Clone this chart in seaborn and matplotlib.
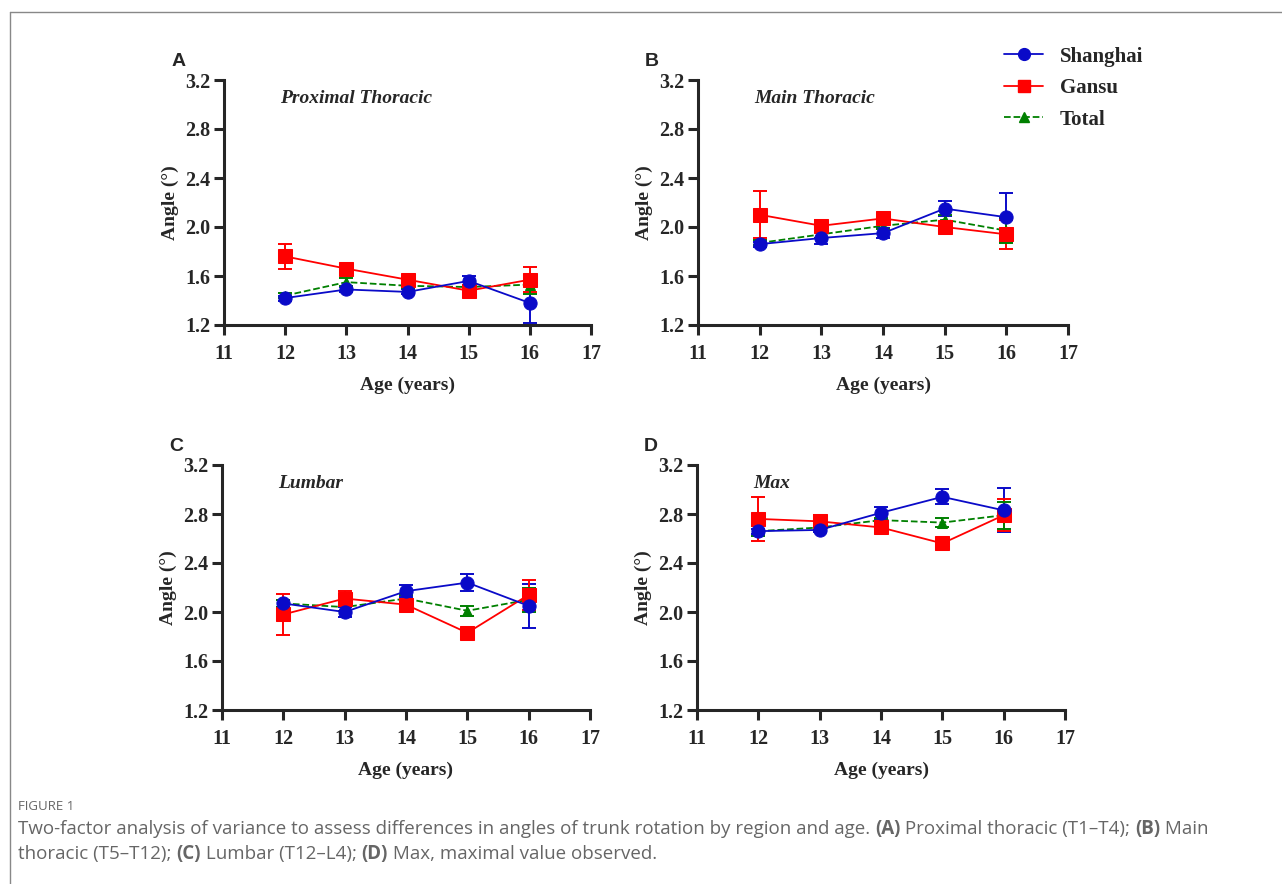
import numpy as np
import pandas as pd
import matplotlib
matplotlib.use("Agg")
import matplotlib.pyplot as plt
from matplotlib.lines import Line2D
import seaborn as sns

# ==================================================
# DATA
# ==================================================

ages = [12, 13, 14, 15, 16]

panel_labels = ["A", "B", "C", "D"]
panel_titles = ["Proximal Thoracic", "Main Thoracic", "Lumbar", "Max"]

# mean values per panel
shanghai_mean = [
    [1.42, 1.49, 1.47, 1.56, 1.38],
    [1.86, 1.91, 1.95, 2.15, 2.08],
    [2.07, 2.00, 2.17, 2.24, 2.05],
    [2.66, 2.67, 2.81, 2.94, 2.83],
]
gansu_mean = [
    [1.76, 1.66, 1.57, 1.48, 1.57],
    [2.10, 2.01, 2.07, 2.00, 1.94],
    [1.98, 2.11, 2.06, 1.83, 2.14],
    [2.76, 2.74, 2.69, 2.56, 2.79],
]
total_mean = [
    [1.44, 1.55, 1.52, 1.51, 1.53],
    [1.87, 1.94, 2.01, 2.06, 1.97],
    [2.07, 2.04, 2.11, 2.01, 2.10],
    [2.66, 2.69, 2.75, 2.73, 2.79],
]

# standard errors per panel
shanghai_err = [
    [0.02, 0.02, 0.02, 0.04, 0.16],
    [0.02, 0.05, 0.04, 0.06, 0.20],
    [0.03, 0.04, 0.05, 0.07, 0.18],
    [0.02, 0.02, 0.05, 0.06, 0.18],
]
gansu_err = [
    [0.10, 0.02, 0.02, 0.02, 0.10],
    [0.19, 0.05, 0.03, 0.04, 0.12],
    [0.17, 0.06, 0.03, 0.03, 0.12],
    [0.18, 0.05, 0.03, 0.04, 0.13],
]
total_err = [
    [0.02, 0.03, 0.02, 0.02, 0.08],
    [0.02, 0.03, 0.03, 0.04, 0.10],
    [0.03, 0.03, 0.03, 0.04, 0.10],
    [0.04, 0.02, 0.02, 0.04, 0.11],
]

series_names = ["Shanghai", "Gansu", "Total"]
colors = {"Shanghai": "#0A0AC8", "Gansu": "#FF0000", "Total": "#008000"}
markers = {"Shanghai": "o", "Gansu": "s", "Total": "^"}
msizes = {"Shanghai": 9.5, "Gansu": 9.5, "Total": 7.5}

# ==================================================
# STYLE
# ==================================================

sns.set_theme(style="ticks")
plt.rcParams["font.family"] = ["Liberation Serif", "DejaVu Serif"]
plt.rcParams["axes.linewidth"] = 2.0

fig = plt.figure(figsize=(12.82, 8.84), dpi=100)

W, H = 1282, 884
boxes = [
    (224, 591, 80, 325),
    (698, 1068, 80, 325),
    (222, 590, 465, 710),
    (697, 1065, 465, 710),
]

yticks = [1.2, 1.6, 2.0, 2.4, 2.8, 3.2]
xticks = list(range(11, 18))

for i, (l, r, t, b) in enumerate(boxes):
    ax = fig.add_axes([l / W, 1 - b / H, (r - l) / W, (b - t) / H])

    df = pd.DataFrame({
        "Age": ages * 3,
        "Angle": shanghai_mean[i] + gansu_mean[i] + total_mean[i],
        "Err": shanghai_err[i] + gansu_err[i] + total_err[i],
        "Group": sum([[g] * len(ages) for g in series_names], []),
    })

    # error bars first
    for g in series_names:
        sub = df[df["Group"] == g]
        ax.errorbar(
            sub["Age"], sub["Angle"], yerr=sub["Err"],
            fmt="none", ecolor=colors[g], elinewidth=1.4,
            capsize=5, capthick=1.4, zorder=2, clip_on=False
        )

    for g in ["Total", "Gansu", "Shanghai"]:
        sub = df[df["Group"] == g]
        sns.lineplot(
            data=sub, x="Age", y="Angle", ax=ax,
            color=colors[g], marker=markers[g], markersize=msizes[g],
            markeredgecolor=colors[g], linewidth=1.3,
            linestyle="--" if g == "Total" else "-",
            legend=False, zorder=3, clip_on=False
        )

    ax.set_xlim(11, 17)
    ax.set_ylim(1.2, 3.2)
    ax.set_xticks(xticks)
    ax.set_xticklabels([str(v) for v in xticks], fontsize=14.5,
                       fontweight="bold")
    ax.set_yticks(yticks)
    ax.set_yticklabels([f"{v:.1f}" for v in yticks], fontsize=14.5,
                       fontweight="bold")
    ax.tick_params(axis="both", direction="out", length=7, width=2.2)
    ax.tick_params(axis="x", pad=7)
    ax.tick_params(axis="y", pad=3)

    sns.despine(ax=ax)
    ax.spines["left"].set_linewidth(2.2)
    ax.spines["bottom"].set_linewidth(2.2)

    ax.set_xlabel("Age (years)", fontsize=14, fontweight="bold", labelpad=9)
    ax.set_ylabel("Angle (°)", fontsize=14, fontweight="bold", labelpad=4)

    ax.text(11.92, 3.05, panel_titles[i], fontsize=14, fontweight="bold",
            fontstyle="italic", ha="left", va="center")

    ax.text(-0.125, 1.075, panel_labels[i], transform=ax.transAxes,
            fontsize=14, fontweight="bold", family="Liberation Sans",
            ha="center", va="center")

# ==================================================
# LEGEND
# ==================================================

handles = [
    Line2D([], [], color=colors[g], marker=markers[g],
           markersize=msizes[g] - (1 if g != "Total" else 0.5),
           linewidth=1.3, linestyle="--" if g == "Total" else "-")
    for g in series_names
]
leg = fig.legend(
    handles, series_names, loc="upper left",
    bbox_to_anchor=(985 / W, 1 - 28 / H), frameon=False,
    prop={"family": "Liberation Serif", "weight": "bold", "size": 15},
    handlelength=1.9, labelspacing=0.55, handletextpad=0.8
)

# ==================================================
# BORDER + CAPTION
# ==================================================

fig.add_artist(Line2D([10 / W, 10 / W], [0, 1 - 12 / H], color="#888888",
                      linewidth=1, transform=fig.transFigure))
fig.add_artist(Line2D([10 / W, 1], [1 - 12 / H, 1 - 12 / H], color="#888888",
                      linewidth=1, transform=fig.transFigure))

cap_color = "#666666"
fig.text(18 / W, 1 - 807 / H, "FIGURE 1", fontsize=9.5, color=cap_color,
         family="Open Sans", va="center")

renderer = fig.canvas.get_renderer()


def draw_runs(x_px, y_px, runs):
    x = x_px
    for txt, bold in runs:
        t = fig.text(x / W, 1 - y_px / H, txt, fontsize=13.5, color=cap_color,
                     family="Open Sans", fontweight="bold" if bold else "normal",
                     va="center", ha="left")
        bb = t.get_window_extent(renderer=renderer)
        x += bb.width


draw_runs(18, 829, [
    ("Two-factor analysis of variance to assess differences in angles of trunk rotation by region and age. ", False),
    ("(A)", True), (" Proximal thoracic (T1\u2013T4); ", False),
    ("(B)", True), (" Main", False),
])
draw_runs(18, 854, [
    ("thoracic (T5\u2013T12); ", False), ("(C)", True),
    (" Lumbar (T12\u2013L4); ", False), ("(D)", True),
    (" Max, maximal value observed.", False),
])

fig.savefig("out.png", dpi=100)
